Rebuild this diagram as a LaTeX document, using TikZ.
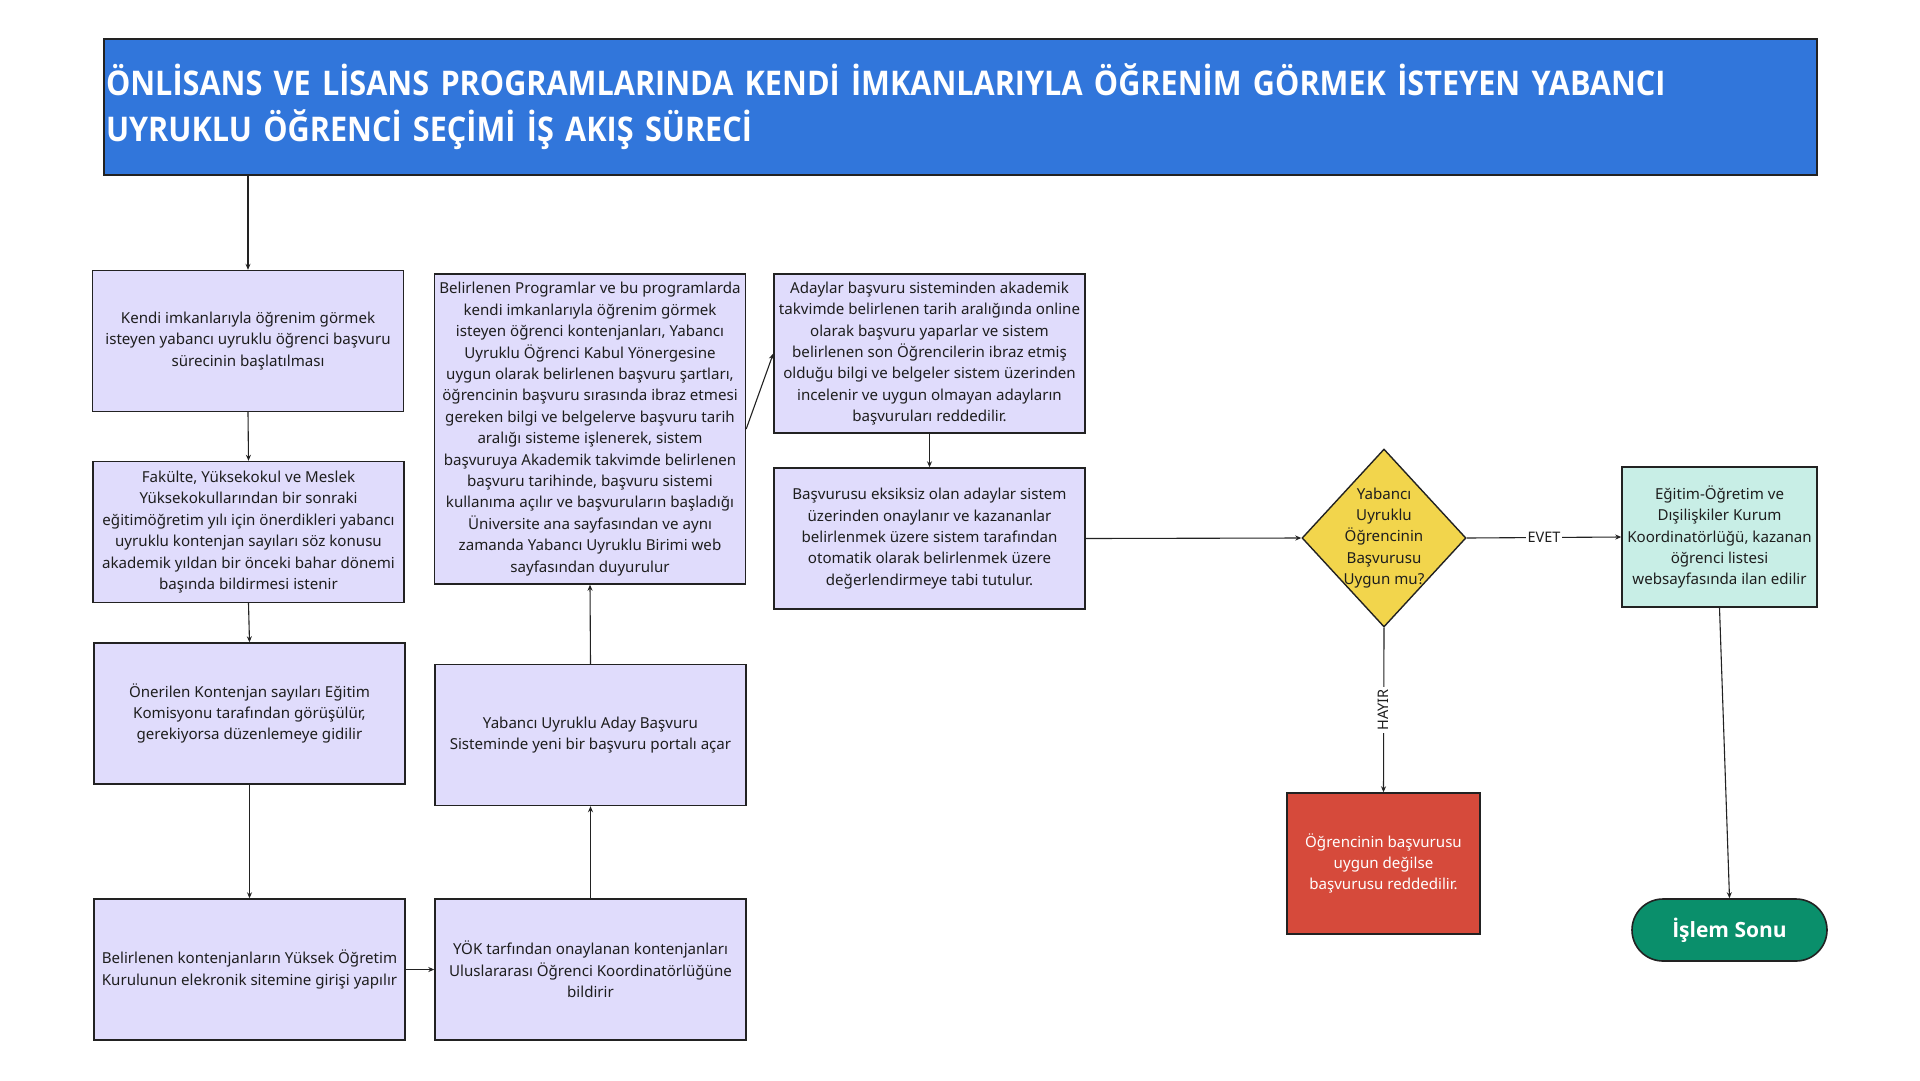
\documentclass[tikz,border=0pt]{standalone}
\usepackage{fontspec}
\setmainfont{Noto Sans}
\newfontfamily\titlefont{Open Sans}
\newfontfamily\titlenarrow[FakeStretch=0.9]{Open Sans}
\usetikzlibrary{shapes.geometric,arrows.meta}

\definecolor{titleblue}{HTML}{3176DB}
\definecolor{boxpurple}{HTML}{E0DCFC}
\definecolor{boxmint}{HTML}{C8EEE6}
\definecolor{boxred}{HTML}{D64A3B}
\definecolor{boxyellow}{HTML}{F2D54C}
\definecolor{endgreen}{HTML}{0A8F6B}
\definecolor{linegray}{HTML}{222222}
\definecolor{textgray}{HTML}{1E1E1E}

\newcommand\bodysize{\fontsize{15.1}{21.4}\selectfont}

\tikzset{
  stepbox/.style={draw=linegray, line width=1.4, fill=boxpurple, text=textgray,
    minimum width=311, minimum height=141, align=center, inner sep=2, font=\bodysize},
  decbox/.style={draw=linegray, line width=1.4, fill=boxyellow, diamond,
    minimum width=164, minimum height=178, inner sep=0},
  endbox/.style={draw=linegray, line width=1.6, fill=endgreen, text=white,
    rounded corners=31, minimum width=195, minimum height=62,
    font=\titlefont\fontsize{21}{26}\selectfont\bfseries},
  arr/.style={draw=linegray, line width=1.1, -{Stealth[length=6,width=5]}},
  lbl/.style={fill=white, text=textgray, inner sep=2, font=\fontsize{14.5}{18}\selectfont}
}

\begin{document}
\begin{tikzpicture}[x=1pt,y=-1pt]
\useasboundingbox[fill=white] (0,0) rectangle (1920,1080);

% Title
\node[draw=linegray, line width=1.4, fill=titleblue, text=white, minimum width=1713,
  minimum height=136, text width=1709, inner sep=2, align=left,
  font=\titlenarrow\fontsize{34}{46}\selectfont\bfseries] (title) at (960.5,107)
  {ÖNLİSANS VE LİSANS PROGRAMLARINDA KENDİ İMKANLARIYLA ÖĞRENİM GÖRMEK İSTEYEN YABANCI\\
   UYRUKLU ÖĞRENCİ SEÇİMİ İŞ AKIŞ SÜRECİ};

% Left column
\node[stepbox] (a1) at (248,341) {Kendi imkanlarıyla öğrenim görmek\\isteyen yabancı uyruklu öğrenci başvuru\\sürecinin başlatılması};
\node[stepbox] (a2) at (248.5,532) {Fakülte, Yüksekokul ve Meslek\\Yüksekokullarından bir sonraki\\eğitimöğretim yılı için önerdikleri yabancı\\uyruklu kontenjan sayıları söz konusu\\akademik yıldan bir önceki bahar dönemi\\başında bildirmesi istenir};
\node[stepbox] (a3) at (249.5,713.5) {Önerilen Kontenjan sayıları Eğitim\\Komisyonu tarafından görüşülür,\\gerekiyorsa düzenlemeye gidilir};
\node[stepbox] (a4) at (249.5,969.5) {Belirlenen kontenjanların Yüksek Öğretim\\Kurulunun elekronik sitemine girişi yapılır};

% Middle column
\node[stepbox] (b1) at (590.5,969.5) {YÖK tarfından onaylanan kontenjanları\\Uluslararası Öğrenci Koordinatörlüğüne\\bildirir};
\node[stepbox] (b2) at (590.5,735) {Yabancı Uyruklu Aday Başvuru\\Sisteminde yeni bir başvuru portalı açar};
\node[stepbox, minimum height=310] (b3) at (590,429) {Belirlenen Programlar ve bu programlarda\\kendi imkanlarıyla öğrenim görmek\\isteyen öğrenci kontenjanları, Yabancı\\Uyruklu Öğrenci Kabul Yönergesine\\uygun olarak belirlenen başvuru şartları,\\öğrencinin başvuru sırasında ibraz etmesi\\gereken bilgi ve belgelerve başvuru tarih\\aralığı sisteme işlenerek, sistem\\başvuruya Akademik takvimde belirlenen\\başvuru tarihinde, başvuru sistemi\\kullanıma açılır ve başvuruların başladığı\\Üniversite ana sayfasından ve aynı\\zamanda Yabancı Uyruklu Birimi web\\sayfasından duyurulur};

% Right column
\node[stepbox, minimum height=159] (c1) at (929.5,353.5) {Adaylar başvuru sisteminden akademik\\takvimde belirlenen tarih aralığında online\\olarak başvuru yaparlar ve sistem\\belirlenen son Öğrencilerin ibraz etmiş\\olduğu bilgi ve belgeler sistem üzerinden\\incelenir ve uygun olmayan adayların\\başvuruları reddedilir.};
\node[stepbox] (c2) at (929.5,538.5) {Başvurusu eksiksiz olan adaylar sistem\\üzerinden onaylanır ve kazananlar\\belirlenmek üzere sistem tarafından\\otomatik olarak belirlenmek üzere\\değerlendirmeye tabi tutulur.};

% Decision
\node[decbox] (dec) at (1384,538) {};
\node[align=center, text=textgray, font=\bodysize] (dectext) at (dec) {Yabancı\\Uyruklu\\Öğrencinin\\Başvurusu\\Uygun mu?};

% Outcomes
\node[stepbox, fill=boxmint, minimum width=195, minimum height=140] (gr) at (1719.5,537) {Eğitim-Öğretim ve\\Dışilişkiler Kurum\\Koordinatörlüğü, kazanan\\öğrenci listesi\\websayfasında ilan edilir};
\node[stepbox, fill=boxred, text=white, minimum width=193, minimum height=141] (rd) at (1383.5,863.5) {Öğrencinin başvurusu\\uygun değilse\\başvurusu reddedilir.};
\node[endbox] (fin) at (1729.5,930) {İşlem Sonu};

% Connectors
\draw[arr] (title.south -| a1.north) -- (a1.north);
\foreach \a/\b in {a1/a2,a2/a3,a3/a4} {
    \draw[arr] (\a.south) -- (\b.north);
}
\draw[arr] (a4.east) -- (b1.west);
\draw[arr] (b1.north) -- (b2.south);
\draw[arr] (b2.north) -- (b3.south);
\draw[arr] (b3.east) -- (c1.west);
\draw[arr] (c1.south) -- (c2.north);
\draw[arr] (c2.east) -- (dec.west);
\draw[arr] (dec.east) -- node[lbl] {EVET} (gr.west);
\draw[arr] (dec.south) -- node[lbl, rotate=90] {HAYIR} (rd.north);
\draw[arr] (gr.south) -- (fin.north);
\end{tikzpicture}
\end{document}
